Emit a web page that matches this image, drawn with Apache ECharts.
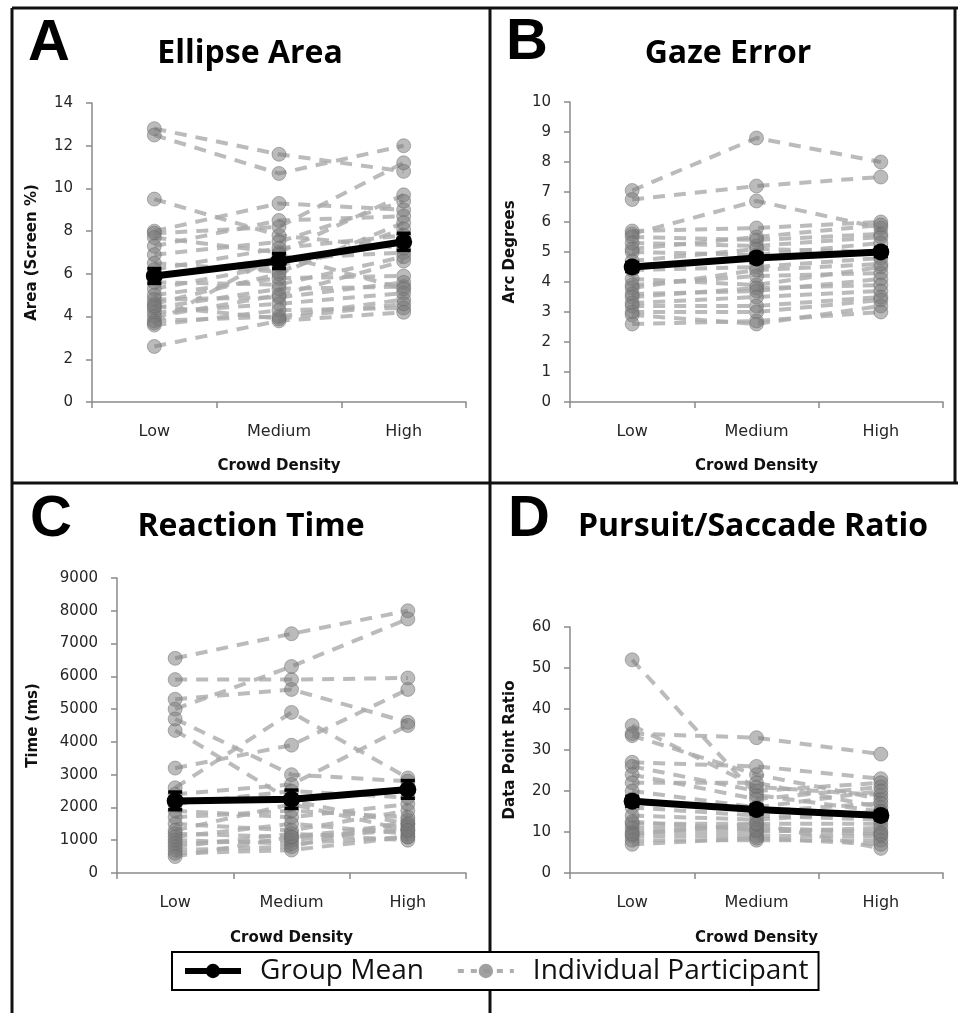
<!DOCTYPE html>
<html>
<head>
<meta charset="utf-8">
<script src="https://cdn.jsdelivr.net/npm/echarts@6/dist/echarts.min.js"></script>
<style>
  html, body { margin: 0; padding: 0; background: #fff; }
  #chart { width: 958px; height: 1013px; }
</style>
</head>
<body>
<div id="chart"></div>
<script>
// ---------------- DATA ----------------
const categories = ['Low', 'Medium', 'High'];

// Panel A: Ellipse Area (Screen %)
const areaMean = [5.9, 6.6, 7.5];
const areaErr = [0.35, 0.35, 0.4];
const areaParticipants = [
  [12.8, 11.6, 10.8], [12.5, 10.7, 12.0], [9.5, 7.8, 7.2], [8.0, 9.3, 9.0],
  [7.9, 8.2, 11.2], [7.7, 7.0, 9.7], [7.3, 8.5, 8.7], [6.9, 7.5, 9.4],
  [6.5, 6.1, 8.1], [6.2, 7.2, 7.8], [5.9, 6.7, 7.0], [5.6, 5.5, 6.8],
  [5.3, 6.4, 7.5], [5.0, 5.8, 5.9], [4.8, 4.9, 5.6], [4.6, 6.0, 8.4],
  [4.4, 5.3, 5.4], [4.2, 4.6, 5.1], [4.0, 5.0, 6.6], [3.8, 4.0, 4.8],
  [3.7, 6.9, 5.3], [3.6, 4.3, 4.4], [2.6, 3.8, 4.2], [4.5, 3.9, 4.6]
];

// Panel B: Gaze Error (Arc Degrees)
const gazeMean = [4.5, 4.8, 5.0];
const gazeErr = [0.15, 0.15, 0.15];
const gazeParticipants = [
  [7.05, 8.8, 8.0], [6.75, 7.2, 7.5], [5.6, 6.7, 5.8], [5.7, 5.8, 6.0],
  [5.5, 5.4, 5.6], [5.3, 5.2, 5.5], [5.1, 5.5, 5.9], [5.0, 4.9, 5.3],
  [4.7, 5.1, 5.0], [4.4, 4.5, 4.8], [4.1, 3.9, 4.5], [3.9, 4.2, 4.3],
  [3.8, 4.4, 4.6], [3.6, 3.7, 4.1], [3.5, 3.8, 3.9], [3.3, 3.5, 3.7],
  [3.2, 3.2, 3.5], [3.0, 3.0, 3.4], [2.9, 2.6, 3.2], [2.6, 2.7, 3.0]
];

// Panel C: Reaction Time (ms)
const timeMean = [2200, 2250, 2550];
const timeErr = [270, 280, 270];
const timeParticipants = [
  [6550, 7300, 8000], [5900, 5900, 5950], [5000, 6300, 7750], [5300, 5600, 4600],
  [2600, 4900, 2900], [3200, 3900, 5600], [4350, 2200, 1500], [4700, 3000, 2800],
  [2400, 2700, 4500], [2100, 2500, 2300], [1900, 1700, 2100], [1700, 1900, 1700],
  [1500, 1300, 1900], [1300, 2100, 1300], [1200, 1100, 1500], [1100, 1500, 1200],
  [1000, 900, 1100], [900, 1000, 1400], [800, 1200, 1000], [700, 800, 1600],
  [600, 700, 1100], [500, 1100, 1300]
];

// Panel D: Pursuit/Saccade Ratio (Data Point Ratio)
const ratioMean = [17.5, 15.5, 14.0];
const ratioErr = [1.2, 1.1, 1.0];
const ratioParticipants = [
  [52, 19, 15], [36, 21, 19], [34, 33, 29], [33.5, 24, 18], [27, 26, 23],
  [26, 20, 22], [24, 18, 21], [22, 22, 16], [20, 16, 20], [18, 15, 17],
  [16, 14, 13], [14, 13, 15], [12, 12, 12], [11, 11, 10], [10, 10, 11],
  [9, 9, 9], [8, 8, 8], [7, 8.5, 7], [12.5, 10.5, 9.5], [9.5, 12, 6]
];

// Axis tick settings
const yMax = [14, 10, 9000, 60];
const yInterval = [2, 1, 1000, 10];
const yNames = ['Area (Screen %)', 'Arc Degrees', 'Time (ms)', 'Data Point Ratio'];
const xName = 'Crowd Density';
const panelLetters = ['A', 'B', 'C', 'D'];
const panelTitles = ['Ellipse Area', 'Gaze Error', 'Reaction Time', 'Pursuit/Saccade Ratio'];

// ---------------- LAYOUT ----------------
const panels = [
  { grid: { left: 92, top: 103, width: 374, height: 299 }, nameGap: 52, letter: [49, 44], title: [250, 54] },
  { grid: { left: 570, top: 102, width: 373, height: 300 }, nameGap: 52, letter: [527, 43], title: [728, 54] },
  { grid: { left: 117, top: 578, width: 349, height: 295 }, nameGap: 76, letter: [51, 520], title: [251, 527] },
  { grid: { left: 570, top: 627, width: 373, height: 246 }, nameGap: 52, letter: [529, 520], title: [753, 527] }
];
const means = [areaMean, gazeMean, timeMean, ratioMean];
const errs = [areaErr, gazeErr, timeErr, ratioErr];
const participants = [areaParticipants, gazeParticipants, timeParticipants, ratioParticipants];

const tickFont = 'DejaVu Sans';
const grids = [], xAxes = [], yAxes = [], series = [], graphics = [];

panels.forEach((p, i) => {
  grids.push(Object.assign({ containLabel: false }, p.grid));
  xAxes.push({
    gridIndex: i, type: 'category', data: categories, boundaryGap: true,
    axisLine: { lineStyle: { color: '#8a8a8a', width: 1.5 } },
    axisTick: { show: true, length: 6, lineStyle: { color: '#8a8a8a', width: 1.5 } },
    axisLabel: { margin: 22, fontSize: 16, color: '#262626', fontFamily: tickFont },
    name: xName, nameLocation: 'middle', nameGap: i < 2 ? 57 : 58,
    nameTextStyle: { fontWeight: 'bold', fontSize: 15, color: '#111', fontFamily: tickFont }
  });
  yAxes.push({
    gridIndex: i, type: 'value', min: 0, max: yMax[i], interval: yInterval[i],
    axisLine: { show: true, lineStyle: { color: '#8a8a8a', width: 1.5 } },
    axisTick: { show: true, length: 6, lineStyle: { color: '#8a8a8a', width: 1.5 } },
    splitLine: { show: false },
    axisLabel: { margin: 19, fontSize: 15, color: '#262626', fontFamily: tickFont, formatter: v => String(v) },
    name: yNames[i], nameLocation: 'middle', nameGap: p.nameGap, nameRotate: 90,
    nameTextStyle: { fontWeight: 'bold', fontSize: 15, color: '#111', fontFamily: tickFont }
  });

  participants[i].forEach(vals => {
    series.push({
      type: 'line', name: 'Individual Participant', xAxisIndex: i, yAxisIndex: i,
      data: vals, symbol: 'circle', symbolSize: 14, silent: true, z: 2,
      lineStyle: { type: [12, 9], width: 4, color: 'rgba(170,170,170,0.8)' },
      itemStyle: { color: 'rgba(120,120,120,0.5)', borderColor: 'rgba(100,100,100,0.45)', borderWidth: 1 }
    });
  });

  series.push({
    type: 'custom', xAxisIndex: i, yAxisIndex: i, z: 6, silent: true,
    data: categories.map((c, k) => [k, means[i][k] - errs[i][k], means[i][k] + errs[i][k]]),
    encode: { x: 0, y: [1, 2] },
    renderItem: function (params, api) {
      const lo = api.coord([api.value(0), api.value(1)]);
      const hi = api.coord([api.value(0), api.value(2)]);
      const hw = 7;
      const st = { stroke: '#000', lineWidth: 3.5 };
      return {
        type: 'group', children: [
          { type: 'line', shape: { x1: lo[0], y1: lo[1], x2: hi[0], y2: hi[1] }, style: st },
          { type: 'line', shape: { x1: lo[0] - hw, y1: lo[1], x2: lo[0] + hw, y2: lo[1] }, style: st },
          { type: 'line', shape: { x1: hi[0] - hw, y1: hi[1], x2: hi[0] + hw, y2: hi[1] }, style: st }
        ]
      };
    }
  });

  series.push({
    type: 'line', name: 'Group Mean', xAxisIndex: i, yAxisIndex: i,
    data: means[i], symbol: 'circle', symbolSize: 17, z: 7, silent: true,
    lineStyle: { color: '#000', width: 7 },
    itemStyle: { color: '#000' }
  });

  graphics.push({
    type: 'text', z: 20, style: {
      text: panelLetters[i], x: p.letter[0], y: p.letter[1], textAlign: 'center', textVerticalAlign: 'middle',
      font: 'bold 58px "Liberation Sans", Arial, sans-serif', fill: '#000'
    }
  });
  graphics.push({
    type: 'text', z: 20, style: {
      text: panelTitles[i], x: p.title[0], y: p.title[1], textAlign: 'center', textVerticalAlign: 'middle',
      font: 'bold 32px "Open Sans", sans-serif', fill: '#000'
    }
  });
});

// Panel borders
const border = { stroke: '#111', lineWidth: 3 };
[
  [12, 8, 12, 1013], [12, 8, 958, 8], [955, 8, 955, 483],
  [12, 483, 958, 483], [490, 8, 490, 1013]
].forEach(l => graphics.push({ type: 'line', z: 1, shape: { x1: l[0], y1: l[1], x2: l[2], y2: l[3] }, style: border }));

const chart = echarts.init(document.getElementById('chart'), null, { renderer: 'canvas' });
chart.setOption({
  animation: false,
  backgroundColor: '#fff',
  grid: grids, xAxis: xAxes, yAxis: yAxes, series: series,
  graphic: { elements: graphics },
  legend: {
    data: [
      { name: 'Group Mean', lineStyle: { width: 6, color: '#000' }, itemStyle: { color: '#000' } },
      { name: 'Individual Participant', lineStyle: { width: 4, type: [6, 7], color: 'rgba(165,165,165,0.9)' }, itemStyle: { color: 'rgba(150,150,150,0.9)', borderWidth: 0 } }
    ],
    left: 172, top: 952, orient: 'horizontal', selectedMode: false,
    itemWidth: 56, itemHeight: 18, itemGap: 32,
    padding: [2, 10, 2, 10], borderColor: '#000', borderWidth: 2, backgroundColor: '#fff',
    z: 30,
    textStyle: { fontFamily: 'Open Sans', fontSize: 28, color: '#111', padding: [0, 0, 0, 14], lineHeight: 34 }
  }
});
</script>
</body>
</html>
